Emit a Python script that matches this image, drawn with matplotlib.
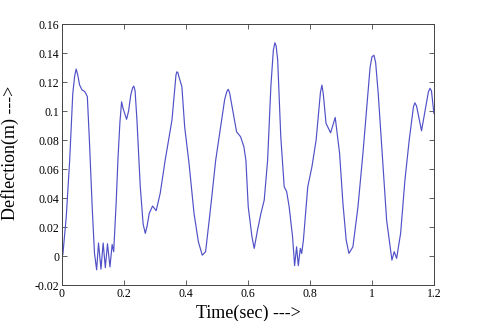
import matplotlib
matplotlib.use("Agg")
import matplotlib.pyplot as plt
from matplotlib.ticker import FuncFormatter

# deflection trace
time_s = [0.000, 0.003, 0.014, 0.025, 0.035, 0.041, 0.046, 0.051, 0.057, 0.065,
          0.070, 0.075, 0.082, 0.089, 0.098, 0.105, 0.112, 0.118, 0.126, 0.133,
          0.140, 0.147, 0.155, 0.162, 0.167, 0.175, 0.181, 0.187, 0.1925, 0.197,
          0.2086, 0.215, 0.222, 0.228, 0.232, 0.236, 0.242, 0.2527, 0.262, 0.269, 0.275,
          0.2817, 0.2925, 0.304, 0.317, 0.333, 0.355, 0.365, 0.368, 0.371, 0.374, 0.377,
          0.387, 0.396, 0.410, 0.426, 0.440, 0.4527, 0.4635, 0.480, 0.496, 0.512, 0.525,
          0.532, 0.5366, 0.541, 0.549, 0.5634, 0.5763, 0.587, 0.5935, 0.601, 0.613,
          0.6203, 0.631, 0.642, 0.6526, 0.6635, 0.674, 0.682, 0.687, 0.691, 0.696,
          0.706, 0.717, 0.725, 0.733, 0.744, 0.7506, 0.757, 0.7625, 0.769, 0.7735,
          0.779, 0.793, 0.8065, 0.820, 0.834, 0.8387, 0.843, 0.852, 0.8667, 0.8816,
          0.8957, 0.9065, 0.917, 0.9258, 0.9387, 0.955, 0.971, 0.987, 0.994, 1.000,
          1.0065, 1.012, 1.0203, 1.0345, 1.0474, 1.0645, 1.072, 1.0797, 1.0926, 1.1065,
          1.1203, 1.134, 1.1387, 1.144, 1.160, 1.182, 1.1871, 1.192, 1.200]
deflection = [0.000, 0.001, 0.027, 0.066, 0.112, 0.124, 0.129, 0.125, 0.118, 0.1145,
              0.114, 0.113, 0.110, 0.078, 0.032, 0.002, -0.0095, 0.009, -0.009, 0.009,
              -0.008, 0.0085, -0.0075, 0.008, 0.003, 0.037, 0.068, 0.092, 0.1064, 0.102,
              0.0943, 0.100, 0.111, 0.116, 0.1172, 0.114, 0.0938, 0.048, 0.022, 0.0156, 0.021,
              0.0295, 0.0345, 0.0313, 0.0432, 0.066, 0.0938, 0.118, 0.125, 0.1271, 0.1265, 0.124,
              0.1168, 0.089, 0.064, 0.0297, 0.010, 0.0006, 0.003, 0.034, 0.066, 0.089, 0.108,
              0.1135, 0.115, 0.1125, 0.103, 0.0857, 0.0823, 0.0754, 0.066, 0.034, 0.0133,
              0.0053, 0.018, 0.0294, 0.0386, 0.066, 0.1168, 0.142, 0.1471, 0.145, 0.1352,
              0.0823, 0.0478, 0.0444, 0.034, 0.0133, -0.0066, 0.0064, -0.0066, 0.0053, 0.0018,
              0.011, 0.0478, 0.0616, 0.080, 0.113, 0.1179, 0.112, 0.0915, 0.085, 0.0956,
              0.0708, 0.0363, 0.011, 0.0018, 0.0064, 0.034, 0.0708, 0.1122, 0.130, 0.1374,
              0.1385, 0.1335, 0.1122, 0.066, 0.0248, -0.0028, 0.003, -0.0016, 0.0157, 0.0524,
              0.080, 0.103, 0.1057, 0.1035, 0.0864, 0.113, 0.1157, 0.114, 0.0984]

x_ticks = [0, 0.2, 0.4, 0.6, 0.8, 1.0, 1.2]
y_ticks = [-0.02, 0, 0.02, 0.04, 0.06, 0.08, 0.1, 0.12, 0.14, 0.16]

plt.rcParams['font.family'] = ['Liberation Serif', 'DejaVu Serif']

fig = plt.figure(figsize=(4.8, 3.21), dpi=100)
ax = fig.add_axes([0.129, 0.112, 0.775, 0.813])

ax.plot(time_s, deflection, color='#5050c8', lw=0.85)

ax.set_xlim(0, 1.2)
ax.set_ylim(-0.02, 0.16)
ax.set_xticks(x_ticks)
ax.set_yticks(y_ticks)
fmt = FuncFormatter(lambda v, p: '%g' % round(v, 4))
ax.xaxis.set_major_formatter(fmt)
ax.yaxis.set_major_formatter(fmt)
ax.tick_params(direction='in', top=True, right=True, length=3.5, width=0.6,
               color='#444444', labelsize=8.5, pad=2)
for s in ax.spines.values():
    s.set_color('#444444')
    s.set_linewidth(0.7)

ax.set_xlabel('Time(sec) --->', fontsize=13)
ax.set_ylabel('Deflection(m) --->', fontsize=13)
ax.xaxis.set_label_coords(0.5, -0.075)
ax.yaxis.set_label_coords(-0.115, 0.505)

fig.savefig('out.png', dpi=100)
